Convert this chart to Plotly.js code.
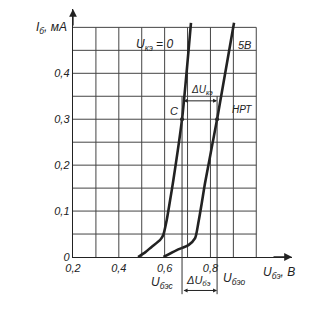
<!DOCTYPE html>
<html>
<head>
<meta charset="utf-8">
<script src="https://cdn.plot.ly/plotly-3.0.1.min.js"></script>
<style>html,body{margin:0;padding:0;background:#fff;}#chart{width:326px;height:314px;}</style>
</head>
<body>
<div id="chart"></div>
<script>
// Input characteristic: U_кэ = 0
const uk0U = [0.484, 0.515, 0.543, 0.580, 0.594, 0.609, 0.624, 0.638, 0.676, 0.715];
const uk0I = [0.000, 0.010, 0.022, 0.037, 0.048, 0.080, 0.124, 0.167, 0.300, 0.510];
// Input characteristic: U_кэ = 5 В
const uk5U = [0.595, 0.653, 0.704, 0.733, 0.747, 0.762, 0.776, 0.829, 0.903];
const uk5I = [0.000, 0.015, 0.026, 0.041, 0.074, 0.117, 0.160, 0.300, 0.510];
// Axes
const xTickVals = [0.2, 0.4, 0.6, 0.8];
const xTickText = ['0,2', '0,4', '0,6', '0,8'];
const yTickVals = [0, 0.1, 0.2, 0.3, 0.4];
const yTickText = ['0', '0,1', '0,2', '0,3', '0,4'];
const gridU = [0.3, 0.4, 0.5, 0.6, 0.7, 0.8, 0.9, 1.0];
const gridI = [0.05, 0.1, 0.15, 0.2, 0.25, 0.3, 0.35, 0.4, 0.45, 0.5];
// Working point construction
const iC = 0.30;
const uBes = 0.676;
const uBeo = 0.829;
const iArrowKe = 0.34;

const ink = '#222';
const fnt = {family: 'Liberation Sans, Arial, sans-serif', size: 11, color: ink, style: 'italic'};
const f12 = Object.assign({}, fnt, {size: 12});

const shapes = [];
gridU.forEach(u => shapes.push({type: 'line', xref: 'x', yref: 'y', x0: u, x1: u, y0: 0, y1: 0.5,
  line: {color: '#444', width: 1}, layer: 'below'}));
gridI.forEach(i => shapes.push({type: 'line', xref: 'x', yref: 'y', x0: 0.2, x1: 1.0, y0: i, y1: i,
  line: {color: '#444', width: 1}, layer: 'below'}));
// vertical construction lines from the working points down below the axis
[uBes, uBeo].forEach(u => shapes.push({type: 'line', xref: 'x', yref: 'paper', x0: u, x1: u,
  y0: -0.15, y1: (iArrowKe + 0.01) / 0.54, line: {color: '#333', width: 1}}));

const annotations = [
  // axis arrows
  {xref: 'paper', yref: 'paper', x: 0, y: 1, ax: 0, ay: 18, showarrow: true, arrowhead: 2, arrowsize: 1.2, arrowwidth: 1.3, arrowcolor: ink, text: ''},
  {xref: 'paper', yref: 'paper', x: 1, y: 0, ax: -20, ay: 0, showarrow: true, arrowhead: 2, arrowsize: 1.2, arrowwidth: 1.3, arrowcolor: ink, text: ''},
  // axis titles
  {xref: 'paper', yref: 'paper', x: -0.02, y: 0.965, xanchor: 'right', showarrow: false, text: 'I<sub>б</sub>, мА', font: f12},
  {xref: 'paper', yref: 'paper', x: 0.86, y: -0.025, xanchor: 'left', yanchor: 'top', showarrow: false, text: 'U<sub>бэ</sub>, В', font: f12},
  // curve labels
  {xref: 'x', yref: 'y', x: 0.555, y: 0.462, showarrow: false, text: 'U<sub>кэ</sub> = 0', font: f12},
  {xref: 'x', yref: 'y', x: 0.948, y: 0.462, showarrow: false, text: '5В', font: fnt},
  {xref: 'x', yref: 'y', x: 0.642, y: 0.318, showarrow: false, text: 'C', font: fnt},
  {xref: 'x', yref: 'y', x: 0.938, y: 0.322, showarrow: false, text: 'НРТ', font: Object.assign({}, fnt, {size: 10})},
  {xref: 'x', yref: 'y', x: 0.765, y: iArrowKe + 0.006, yanchor: 'bottom', showarrow: false, text: 'ΔU<sub>кэ</sub>', font: Object.assign({}, fnt, {size: 10})},
  // ΔU_кэ double arrow
  {xref: 'x', yref: 'y', axref: 'x', ayref: 'y', x: uBeo, y: iArrowKe, ax: uBes, ay: iArrowKe, showarrow: true,
   arrowhead: 2, startarrowhead: 2, arrowside: 'end+start', arrowsize: 0.8, arrowwidth: 1, arrowcolor: ink, text: ''},
  // below-axis labels
  {xref: 'x', yref: 'paper', x: 0.59, y: -0.065, yanchor: 'top', showarrow: false, text: 'U<sub>бэс</sub>', font: f12},
  {xref: 'x', yref: 'paper', x: 0.905, y: -0.05, yanchor: 'top', showarrow: false, text: 'U<sub>бэо</sub>', font: f12},
  {xref: 'x', yref: 'paper', x: 0.75, y: -0.135, yanchor: 'bottom', showarrow: false, text: 'ΔU<sub>бэ</sub>', font: fnt},
  {xref: 'x', yref: 'paper', axref: 'x', ayref: 'paper', x: uBeo, y: -0.135, ax: uBes, ay: -0.135, showarrow: true,
   arrowhead: 2, startarrowhead: 2, arrowside: 'end+start', arrowsize: 0.8, arrowwidth: 1, arrowcolor: ink, text: ''}
];

const traces = [
  {x: uk0U, y: uk0I, mode: 'lines', line: {color: ink, width: 2.6, shape: 'spline', smoothing: 0.6}, hoverinfo: 'skip'},
  {x: uk5U, y: uk5I, mode: 'lines', line: {color: ink, width: 2.6, shape: 'spline', smoothing: 0.6}, hoverinfo: 'skip'},
  {x: [uBes, uBeo], y: [iC, iC], mode: 'markers', marker: {color: ink, size: 4}, hoverinfo: 'skip'}
];

const layout = {
  width: 326, height: 314,
  margin: {l: 73, r: 34, t: 9, b: 57},
  paper_bgcolor: '#fff', plot_bgcolor: '#fff',
  showlegend: false,
  font: fnt,
  xaxis: {range: [0.2, 1.156], showgrid: false, zeroline: false, showline: true, linecolor: ink, linewidth: 1.3,
    tickvals: xTickVals, ticktext: xTickText, ticks: '', tickfont: fnt, fixedrange: true},
  yaxis: {range: [0, 0.54], showgrid: false, zeroline: false, showline: true, linecolor: ink, linewidth: 1.3,
    tickvals: yTickVals, ticktext: yTickText, ticks: '', tickfont: fnt, fixedrange: true},
  shapes: shapes,
  annotations: annotations
};

Plotly.newPlot('chart', traces, layout, {staticPlot: true, displayModeBar: false});
</script>
</body>
</html>
